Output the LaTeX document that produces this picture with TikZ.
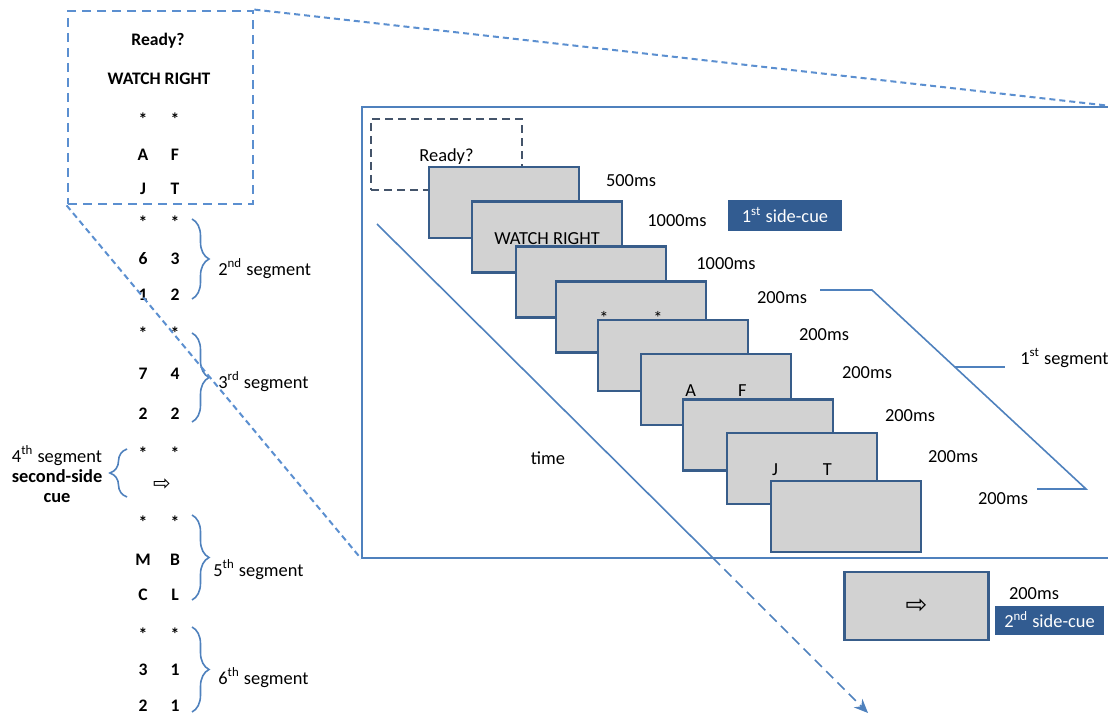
\documentclass[tikz,border=0pt]{standalone}
\usepackage{fontspec}
\setmainfont{Carlito}
\newfontfamily\arrowfont{DejaVu Sans}
\usetikzlibrary{decorations.pathreplacing,arrows.meta}
\definecolor{lineblue}{RGB}{79,129,189}
\definecolor{dashblue}{RGB}{91,143,208}
\definecolor{frameblue}{RGB}{56,93,138}
\definecolor{cueblue}{RGB}{50,92,145}
\definecolor{screengray}{RGB}{210,210,210}
\definecolor{slate}{RGB}{68,84,106}

\begin{document}
\begin{tikzpicture}[x=0.5pt, y=-0.5pt, font=\fontsize{9.2}{11}\selectfont]
	\tikzstyle {screen} = [shape=rectangle, draw=frameblue, line width=1.1pt, fill=screengray, minimum width=75pt, minimum height=35.5pt, inner sep=0pt, text height=1.5ex, text depth=0pt]
	\tikzstyle {cue}    = [shape=rectangle, fill=cueblue, text=white, inner sep=0pt, text height=1.5ex, text depth=0pt]
	\tikzstyle {dur}    = [inner sep=0pt, text height=1.5ex, text depth=0pt]
	\tikzstyle {letter} = [inner sep=0pt, text height=1.5ex, text depth=0pt, font=\bfseries\fontsize{8.8}{10}\selectfont]
	\tikzstyle {seg}    = [inner sep=0pt, anchor=west, text height=1.5ex, text depth=0pt]
	\tikzstyle {segbrace} = [draw=lineblue, line width=0.8pt, decorate, decoration={brace, amplitude=8.5pt}]
	\tikzstyle {zoomline} = [draw=dashblue, line width=1pt, dash pattern=on 3pt off 2pt]

	\useasboundingbox (0,0) rectangle (1108,715);
	\clip (0,0) rectangle (1108,715);

	% zoomed sequence (left column)
	\node[draw=dashblue, line width=1.4pt, dash pattern=on 4.5pt off 3pt, minimum width=92.5pt, minimum height=96.5pt] (zoom) at (160.5,107.5) {};
	\node[letter] (Left-1) at (158,38) {Ready?};
	\node[letter] (Left-2) at (159,77) {WATCH RIGHT};
	\node[letter] (Left-3-1) at (143,118.5) {*};  \node[letter] (Left-3-2) at (175,118.5) {*};
	\node[letter] (Left-4-1) at (143,153) {A};    \node[letter] (Left-4-2) at (175,153) {F};
	\node[letter] (Left-5-1) at (143,187) {J};    \node[letter] (Left-5-2) at (175,187) {T};
	\node[letter] (Left-6-1) at (143,221.5) {*};  \node[letter] (Left-6-2) at (175,221.5) {*};
	\node[letter] (Left-7-1) at (143,257) {6};    \node[letter] (Left-7-2) at (175,257) {3};
	\node[letter] (Left-8-1) at (143,293) {1};    \node[letter] (Left-8-2) at (175,293) {2};
	\node[letter] (Left-9-1) at (143,332.5) {*};  \node[letter] (Left-9-2) at (175,332.5) {*};
	\node[letter] (Left-10-1) at (143,372) {7};   \node[letter] (Left-10-2) at (175,372) {4};
	\node[letter] (Left-11-1) at (143,412) {2};   \node[letter] (Left-11-2) at (175,412) {2};
	\node[letter] (Left-12-1) at (143,452) {*};   \node[letter] (Left-12-2) at (175,452) {*};
	\node[inner sep=0pt] (Left-13) at (162,485) {\arrowfont\fontsize{10.5}{11}\selectfont ⇨};
	\node[letter] (Left-14-1) at (143,521.5) {*}; \node[letter] (Left-14-2) at (175,521.5) {*};
	\node[letter] (Left-15-1) at (143,558) {M};   \node[letter] (Left-15-2) at (175,558) {B};
	\node[letter] (Left-16-1) at (143,593) {C};   \node[letter] (Left-16-2) at (175,593) {L};
	\node[letter] (Left-17-1) at (143,633.5) {*}; \node[letter] (Left-17-2) at (175,633.5) {*};
	\node[letter] (Left-18-1) at (143,668) {3};   \node[letter] (Left-18-2) at (175,668) {1};
	\node[letter] (Left-19-1) at (143,704) {2};   \node[letter] (Left-19-2) at (175,704) {1};

	% segment braces
	\draw[segbrace] (192,219) -- (192,299);
	\draw[segbrace] (192,333) -- (192,422);
	\draw[segbrace] (127,497) -- (127,449);
	\draw[segbrace] (192,515) -- (192,600);
	\draw[segbrace] (192,627) -- (192,712);
	\node[seg] (seg-2) at (218,268) {2\textsuperscript{nd} segment};
	\node[seg] (seg-3) at (218,381) {3\textsuperscript{rd} segment};
	\node[align=center, inner sep=0pt] (seg-4) at (57,474) {4\textsuperscript{th} segment\\[-1pt] \textbf{second-side}\\[-1pt] \textbf{cue}};
	\node[seg] (seg-5) at (213,569) {5\textsuperscript{th} segment};
	\node[seg] (seg-6) at (218,677) {6\textsuperscript{th} segment};

	% trial panel
	\node[draw=lineblue, line width=0.8pt, minimum width=375pt, minimum height=225.5pt] (panel) at (737,332.5) {};
	\draw[zoomline] (zoom.north east) -- (panel.north east);
	\draw[zoomline] (zoom.south west) -- (panel.south west);

	% time axis
	\coordinate (time-start) at (377,224);
	\coordinate (time-cross) at (713,558);
	\coordinate (time-end) at (868,713);
	\draw[lineblue, line width=0.8pt] (time-start) -- (time-cross);
	\draw[lineblue, line width=0.8pt, dash pattern=on 5pt off 3pt, -{Stealth[length=7pt, width=6pt]}] (time-cross) -- (time-end);
	\node[dur] (time) at (548,457) {time};

	% screens
	\node[draw=slate, line width=1pt, dash pattern=on 4pt off 2.5pt, minimum width=75.5pt, minimum height=35.5pt, text height=1.5ex, text depth=0pt] (ready) at (446.5,154.5) {Ready?};
	\node[screen] (screen-1) at (504,202.5) {};
	\node[screen] (screen-2) at (547,237) {WATCH RIGHT};
	\node[screen] (screen-3) at (591,282) {};
	\node[screen] (screen-4) at (631,317) {*\hspace{22.5pt}*};
	\node[screen] (screen-5) at (673,355.5) {};
	\node[screen] (screen-6) at (716,389.5) {A\hspace{21pt}F};
	\node[screen] (screen-7) at (758,435) {};
	\node[screen] (screen-8) at (802,468.5) {J\hspace{22.5pt}T};
	\node[screen] (screen-9) at (846,516.5) {};
	\node[screen, minimum width=72pt, minimum height=34pt] (screen-10) at (916.5,606) {\arrowfont\fontsize{13}{14}\selectfont ⇨};

	% durations
	\node[dur] (dur-1) at (631,179) {500ms};
	\node[dur] (dur-2) at (677,219) {1000ms};
	\node[dur] (dur-3) at (726,262) {1000ms};
	\node[dur] (dur-4) at (782,296) {200ms};
	\node[dur] (dur-5) at (824,333) {200ms};
	\node[dur] (dur-6) at (867,371) {200ms};
	\node[dur] (dur-7) at (910,414) {200ms};
	\node[dur] (dur-8) at (953,455) {200ms};
	\node[dur] (dur-9) at (1003,497) {200ms};
	\node[dur] (dur-10) at (1034,592) {200ms};

	% side-cues
	\node[cue, minimum width=57pt, minimum height=15.5pt] (cue-1) at (785,215.5) {1\textsuperscript{st} side-cue};
	\node[cue, minimum width=54.5pt, minimum height=14.5pt] (cue-2) at (1049.5,620.5) {2\textsuperscript{nd} side-cue};

	% 1st segment
	\coordinate (seg1-a) at (820,290);
	\coordinate (seg1-b) at (872,290);
	\coordinate (seg1-c) at (1086,489);
	\coordinate (seg1-d) at (1037,489);
	\coordinate (seg1-m) at (955,367);
	\coordinate (seg1-t) at (1005,367);
	\draw[lineblue, line width=0.8pt] (seg1-a) -- (seg1-b) -- (seg1-c) -- (seg1-d);
	\draw[lineblue, line width=0.8pt] (seg1-m) -- (seg1-t);
	\node[seg] (seg-1) at (1020,357) {1\textsuperscript{st} segment};
\end{tikzpicture}
\end{document}
